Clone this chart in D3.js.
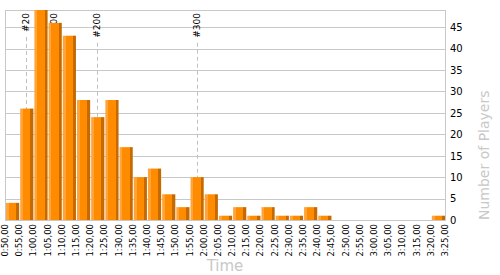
<!DOCTYPE html>
<html>
<head>
<meta charset="utf-8">
<script src="https://cdnjs.cloudflare.com/ajax/libs/d3/7.8.5/d3.min.js"></script>
<style>
	body { margin: 0; background: #fff; }
	svg { display: block; font-family: "DejaVu Sans", Verdana, sans-serif; }
</style>
</head>
<body>
<div class="chart"></div>
<script>

// Histogram data (bins of 5 minutes, start time in minutes)

var binStarts = [50, 55, 60, 65, 70, 75, 80, 85, 90, 95, 100, 105, 110, 115, 120, 125,
	130, 135, 140, 145, 150, 155, 160, 165, 170, 175, 180, 185, 190, 195, 200];
var players = [4, 26, 49, 46, 43, 28, 24, 28, 17, 10, 12, 6, 3, 10, 6, 1,
	3, 1, 3, 1, 1, 3, 1, 0, 0, 0, 0, 0, 0, 0, 1];
var xTicks = [50, 55, 60, 65, 70, 75, 80, 85, 90, 95, 100, 105, 110, 115, 120, 125,
	130, 135, 140, 145, 150, 155, 160, 165, 170, 175, 180, 185, 190, 195, 200, 205];
var yTicks = [0, 5, 10, 15, 20, 25, 30, 35, 40, 45];
var markerLabels = ['#20', '#100', '#200', '#300'];
var markerTimes = [57.5, 67.2, 82.4, 117.5];

var binSize = 5;

// Scales

var
	width = 500,
	height = 275,
	x = d3.scaleLinear().domain([50, 205]).range([5, 445]),
	y = d3.scaleLinear().domain([0, 49]).range([220, 10]),

	svg = d3.select('.chart').append('svg')
		.attr('width', width)
		.attr('height', height);

var fmt = function(m) {
	var h = Math.floor(m / 60), mm = m % 60;
	return h + ':' + (mm < 10 ? '0' : '') + mm + ',00';
};

var grad = svg.append('defs').append('linearGradient')
	.attr('id', 'bar')
	.attr('x1', '0').attr('x2', '1').attr('y1', '0').attr('y2', '0');
[[0, '#ffa43a'], [0.22, '#ffa43a'], [0.22, '#ff8c00'], [0.77, '#ff8c00'], [0.77, '#c46a00'], [1, '#c46a00']]
	.forEach(function(s) {
		grad.append('stop').attr('offset', s[0]).attr('stop-color', s[1]);
	});

// Grid and frame

svg.append('g')
	.selectAll('line')
	.data(yTicks)
	.enter()
	.append('line')
	.attr('x1', x(50)).attr('x2', x(205))
	.attr('y1', function(d) {return Math.round(y(d)) + 0.5;})
	.attr('y2', function(d) {return Math.round(y(d)) + 0.5;})
	.style('stroke', '#c8c8c8');

svg.append('rect')
	.attr('x', x(50) + 0.5)
	.attr('y', y(49) + 0.5)
	.attr('width', x(205) - x(50))
	.attr('height', y(0) - y(49))
	.style('fill', 'none')
	.style('stroke', '#c8c8c8');

// Player markers

var markers = svg.append('g')
	.selectAll('g')
	.data(markerTimes)
	.enter()
	.append('g');

markers.append('text')
	.attr('transform', function(d) {return 'translate(' + Math.round(x(d)) + ',13) rotate(-90)';})
	.attr('dy', '0.35em')
	.attr('text-anchor', 'end')
	.style('font-size', '9px')
	.style('fill', '#000')
	.text(function(d, i) {return markerLabels[i];});

markers.append('line')
	.attr('x1', function(d) {return Math.round(x(d)) + 0.5;})
	.attr('x2', function(d) {return Math.round(x(d)) + 0.5;})
	.attr('y1', function() {
		return 13 + this.parentNode.querySelector('text').getComputedTextLength() + 5;
	})
	.attr('y2', y(0))
	.style('stroke', '#c0c0c0')
	.style('stroke-dasharray', '4,3');

// Bars

svg.append('g')
	.selectAll('rect')
	.data(players)
	.enter()
	.append('rect')
	.attr('x', function(d, i) {return x(binStarts[i]) + 1;})
	.attr('width', function(d, i) {return x(binStarts[i] + binSize) - x(binStarts[i]) - 1;})
	.attr('y', function(d) {return y(d);})
	.attr('height', function(d) {return y(0) - y(d);})
	.style('fill', 'url(#bar)');

// Axes labels

svg.append('g')
	.selectAll('text')
	.data(xTicks)
	.enter()
	.append('text')
	.attr('transform', function(d) {return 'translate(' + x(d) + ',224) rotate(-90)';})
	.attr('dy', '0.35em')
	.attr('text-anchor', 'end')
	.style('font-size', '8.5px')
	.style('fill', '#000')
	.text(fmt);

svg.append('g')
	.selectAll('text')
	.data(yTicks)
	.enter()
	.append('text')
	.attr('x', 450)
	.attr('y', function(d) {return y(d);})
	.attr('dy', '0.38em')
	.style('font-size', '10px')
	.style('fill', '#000')
	.text(function(d) {return d;});

svg.append('text')
	.attr('x', 225)
	.attr('y', 271)
	.attr('text-anchor', 'middle')
	.style('font-size', '15px')
	.style('fill', '#c8c8c8')
	.text('Time');

svg.append('text')
	.attr('transform', 'translate(489,220) rotate(-90)')
	.attr('text-anchor', 'start')
	.style('font-size', '14px')
	.style('fill', '#c8c8c8')
	.text('Number of Players');

</script>
</body>
</html>
